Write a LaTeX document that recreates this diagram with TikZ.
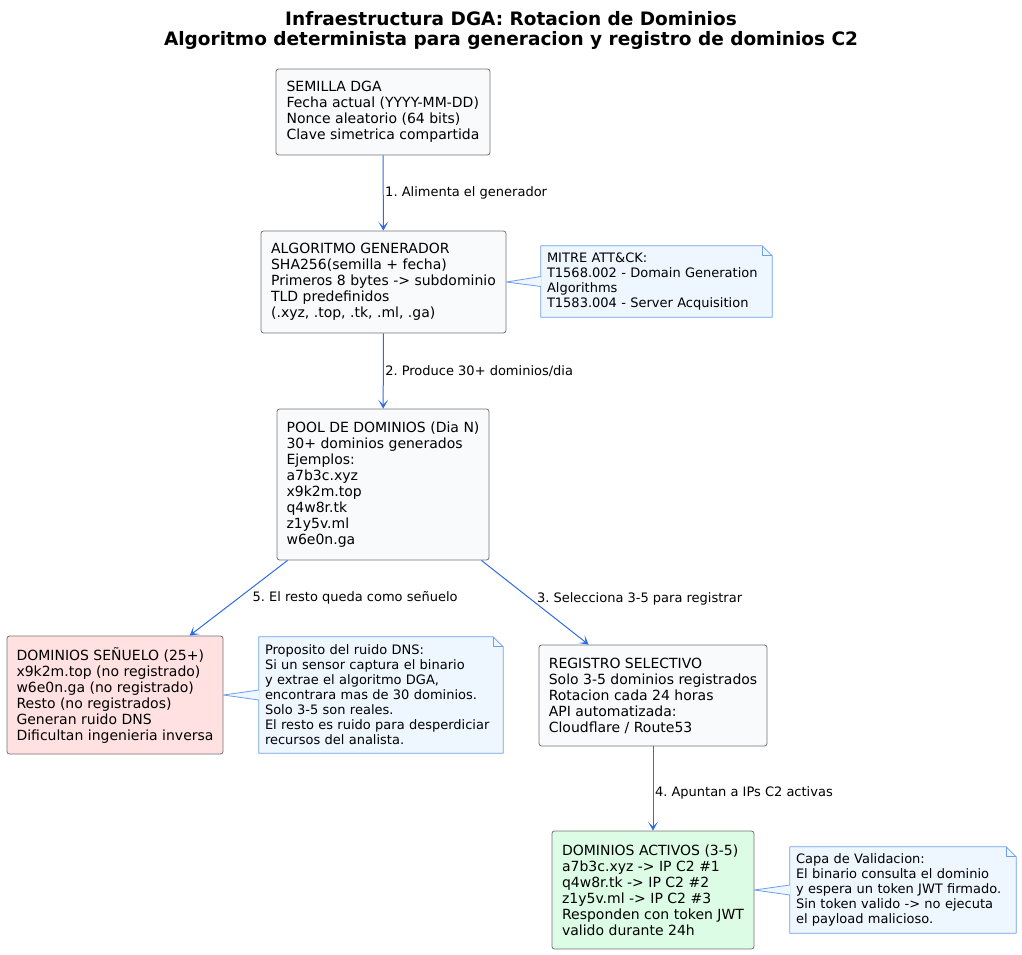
\documentclass[tikz,border=0pt]{standalone}
\usepackage{fontspec}
\setmainfont{DejaVu Sans}
\usepackage{tikz}
\usetikzlibrary{arrows.meta}
\frenchspacing

\definecolor{boxfill}{HTML}{F8FAFC}
\definecolor{boxline}{HTML}{737373}
\definecolor{edgeline}{HTML}{2D6BE6}
\definecolor{notefill}{HTML}{EEF6FF}
\definecolor{noteline}{HTML}{6D9EEB}
\definecolor{decoyfill}{HTML}{FFE1E1}
\definecolor{activefill}{HTML}{DCFCE6}

\begin{document}
\begin{tikzpicture}[x=1pt, y=-1pt, >={Stealth[length=9pt,width=10pt,inset=5pt]}, line join=round]
\tikzstyle{stage}=[draw=boxline, line width=0.8pt, fill=boxfill, rounded corners=2.5pt, align=left,
  inner sep=0pt, font=\fontsize{14}{16}\selectfont]
\tikzstyle{notebox}=[fill=notefill, align=left, inner xsep=6pt, inner ysep=0pt,
  font=\fontsize{13}{15}\selectfont]
\tikzstyle{flow}=[->, draw=edgeline, line width=1pt]
\tikzstyle{flowlabel}=[font=\fontsize{13}{15}\selectfont, text=black, inner sep=1.5pt]
\tikzstyle{fold}=[draw=noteline, line width=0.8pt]

\useasboundingbox (0,0) rectangle (1022,954);

% titulo
\node[align=center, font=\fontsize{18.5}{20}\bfseries\selectfont] (title) at (511,30)
  {Infraestructura DGA: Rotacion de Dominios\\Algoritmo determinista para generacion y registro de dominios C2};

% etapas
\node[stage, minimum width=214pt, minimum height=86pt] (seed) at (383,112)
  {SEMILLA DGA\\Fecha actual (YYYY-MM-DD)\\Nonce aleatorio (64 bits)\\Clave simetrica compartida};
\node[stage, minimum width=245pt, minimum height=102pt] (gen) at (383.5,282)
  {ALGORITMO GENERADOR\\SHA256(semilla + fecha)\\Primeros 8 bytes -> subdominio\\TLD predefinidos\\(.xyz, .top, .tk, .ml, .ga)};
\node[stage, minimum width=212pt, minimum height=151pt] (pool) at (383,484.5)
  {POOL DE DOMINIOS (Dia N)\\30+ dominios generados\\Ejemplos:\\a7b3c.xyz\\x9k2m.top\\q4w8r.tk\\z1y5v.ml\\w6e0n.ga};
\node[stage, fill=decoyfill, minimum width=216pt, minimum height=118pt] (decoy) at (115,695)
  {DOMINIOS SEÑUELO (25+)\\x9k2m.top (no registrado)\\w6e0n.ga (no registrado)\\Resto (no registrados)\\Generan ruido DNS\\Dificultan ingenieria inversa};
\node[stage, minimum width=228pt, minimum height=101pt] (reg) at (653,695.5)
  {REGISTRO SELECTIVO\\Solo 3-5 dominios registrados\\Rotacion cada 24 horas\\API automatizada:\\Cloudflare / Route53};
\node[stage, fill=activefill, minimum width=202pt, minimum height=118pt] (active) at (653,890)
  {DOMINIOS ACTIVOS (3-5)\\a7b3c.xyz -> IP C2 \#1\\q4w8r.tk -> IP C2 \#2\\z1y5v.ml -> IP C2 \#3\\Responden con token JWT\\valido durante 24h};

% notas
\node[notebox, text width=219pt, minimum height=71pt] (mitre) at (656.5,281.5)
  {MITRE ATT\&CK:\\T1568.002 - Domain Generation\\Algorithms\\T1583.004 - Server Acquisition};
\node[notebox, text width=232pt, minimum height=116pt] (noise) at (381,695)
  {Proposito del ruido DNS:\\Si un sensor captura el binario\\y extrae el algoritmo DGA,\\encontrara mas de 30 dominios.\\Solo 3-5 son reales.\\El resto es ruido para desperdiciar\\recursos del analista.};
\node[notebox, text width=214pt, minimum height=86pt] (valid) at (903,890)
  {Capa de Validacion:\\El binario consulta el dominio\\y espera un token JWT firmado.\\Sin token valido -> no ejecuta\\el payload malicioso.};

\foreach \n in {mitre, noise, valid} {
  \fill[white] ([xshift=-10pt]\n.north east) -- (\n.north east) -- ([yshift=-10pt]\n.north east) -- cycle;
  \draw[fold] (\n.north west) -- ([xshift=-10pt]\n.north east) -- ([yshift=-10pt]\n.north east)
    -- (\n.south east) -- (\n.south west) -- cycle;
  \draw[fold] ([xshift=-10pt]\n.north east) -- ([xshift=-10pt,yshift=-10pt]\n.north east) -- ([yshift=-10pt]\n.north east);
}

% enlaces a las notas
\fill[notefill] (gen.east) -- ([yshift=-5pt]mitre.west) -- ([yshift=5pt]mitre.west) -- cycle;
\draw[fold] ([yshift=-5pt]mitre.west) -- (gen.east) -- ([yshift=5pt]mitre.west);
\fill[notefill] (decoy.east) -- ([yshift=-5pt]noise.west) -- ([yshift=5pt]noise.west) -- cycle;
\draw[fold] ([yshift=-5pt]noise.west) -- (decoy.east) -- ([yshift=5pt]noise.west);
\fill[notefill] (active.east) -- ([yshift=-5pt]valid.west) -- ([yshift=5pt]valid.west) -- cycle;
\draw[fold] ([yshift=-5pt]valid.west) -- (active.east) -- ([yshift=5pt]valid.west);

% flujo
\draw[flow] (seed) -- node[flowlabel, right] {1. Alimenta el generador} (gen);
\draw[flow] (gen) -- node[flowlabel, right] {2. Produce 30+ dominios/dia} (pool);
\draw[flow] ([xshift=-8pt]pool.south east) -- node[flowlabel, anchor=west, yshift=4pt] {3. Selecciona 3-5 para registrar} ([xshift=50pt]reg.north west);
\draw[flow] (reg) -- node[flowlabel, right, yshift=-4pt] {4. Apuntan a IPs C2 activas} (active);
\draw[flow] ([xshift=11pt]pool.south west) -- node[flowlabel, anchor=west, xshift=12pt] {5. El resto queda como señuelo} ([xshift=183pt]decoy.north west);
\end{tikzpicture}
\end{document}
